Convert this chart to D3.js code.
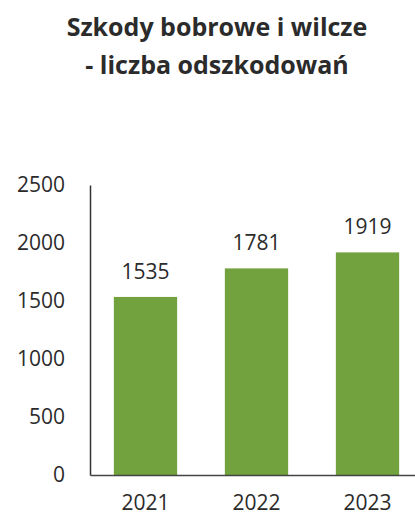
<!DOCTYPE html>
<html>
<head>
<meta charset="utf-8">
<script src="https://cdn.jsdelivr.net/npm/d3@7"></script>
<style>
  body { margin: 0; background: #fff; }
  svg { display: block; font-family: "Open Sans", sans-serif; }
</style>
</head>
<body>
<div id="chart"></div>
<script>
// Data
const years = ['2021', '2022', '2023']
const claims = [1535, 1781, 1919]
const yTicks = [0, 500, 1000, 1500, 2000, 2500]
const titleLines = ['Szkody bobrowe i wilcze', '- liczba odszkodowań']

const width = 415
const height = 517
const margins = { top: 185, bottom: 42, left: 90, right: -8 }

const svg = d3.select('#chart')
  .append('svg')
  .attr('width', width)
  .attr('height', height)

const ctrWidth = width - margins.left - margins.right
const ctrHeight = height - margins.top - margins.bottom

const ctr = svg.append('g')
  .attr('transform', `translate(${margins.left}, ${margins.top})`)

// Title
svg.append('text')
  .attr('x', 217)
  .attr('y', 36)
  .attr('text-anchor', 'middle')
  .attr('font-weight', 'bold')
  .attr('font-size', 25)
  .attr('fill', '#2b2b2b')
  .selectAll('tspan')
  .data(titleLines)
  .join('tspan')
  .attr('x', 217)
  .attr('dy', (d, i) => i === 0 ? 0 : 38)
  .text(d => d)

// Scales
const xScale = d3.scaleBand()
  .domain(years)
  .range([0, ctrWidth])
  .paddingInner(0.43)
  .paddingOuter(0.215)

const yScale = d3.scaleLinear()
  .domain([0, 2500])
  .range([ctrHeight, 0])

// Bars
ctr.selectAll('rect')
  .data(claims)
  .join('rect')
  .attr('x', (d, i) => xScale(years[i]))
  .attr('y', d => yScale(d))
  .attr('width', xScale.bandwidth())
  .attr('height', d => ctrHeight - yScale(d))
  .attr('fill', '#71a23d')

// Value labels
ctr.selectAll('.value')
  .data(claims)
  .join('text')
  .attr('class', 'value')
  .attr('x', (d, i) => xScale(years[i]) + xScale.bandwidth() / 2)
  .attr('y', d => yScale(d) - 18)
  .attr('text-anchor', 'middle')
  .attr('font-size', 21)
  .attr('fill', '#2b2b2b')
  .text(d => d)

// Axes
const yAxis = d3.axisLeft(yScale)
  .tickValues(yTicks)
  .tickFormat(d3.format('d'))
  .tickSize(0)
  .tickPadding(25)

const yAxisGroup = ctr.append('g')
  .call(yAxis)
yAxisGroup.select('.domain').attr('stroke', '#333').attr('stroke-width', 1.5)
yAxisGroup.selectAll('text')
  .attr('font-size', 21)
  .attr('font-family', '"Open Sans", sans-serif')
  .attr('fill', '#2b2b2b')

const xAxis = d3.axisBottom(xScale)
  .tickSize(0)
  .tickPadding(20)

const xAxisGroup = ctr.append('g')
  .attr('transform', `translate(0, ${ctrHeight})`)
  .call(xAxis)
xAxisGroup.select('.domain').attr('stroke', '#444').attr('stroke-width', 1.5)
xAxisGroup.selectAll('text')
  .attr('font-size', 21)
  .attr('font-family', '"Open Sans", sans-serif')
  .attr('fill', '#2b2b2b')
</script>
</body>
</html>
